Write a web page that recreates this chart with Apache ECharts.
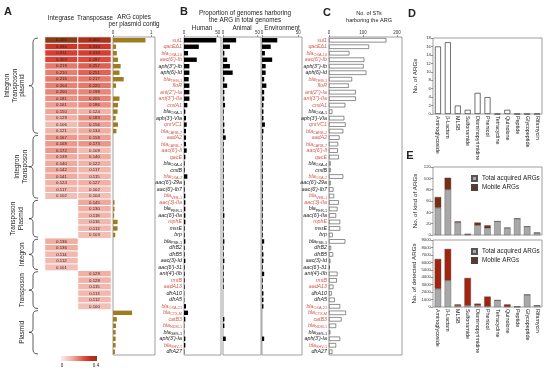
<!DOCTYPE html>
<html><head><meta charset="utf-8">
<script src="https://cdn.jsdelivr.net/npm/echarts@6/dist/echarts.min.js"></script>
<style>html,body{margin:0;padding:0;background:#fff}#c{width:550px;height:370px}</style>
</head><body><div id="c"></div><script>
const genes = ["sul1","qacEΔ1","bla_OXA-10","aac(6')-Ib","aph(3'')-Ib","aph(6)-Id","bla_TEM-1","floR","ant(2'')-Ia","ant(3'')-IIa","cmlA1","bla_OXA-1","aph(3')-VIa","qnrVC1",
"bla_CARB-2","aadA2","bla_CARB-7","aac(6')-Il","qacE","bla_OXA-4","cmlB","bla_OXA-2","aac(6')-29a","aac(6')-Ib7","bla_VEB-1",
"aac(3)-IIa","bla_PER-1","aac(6')-IIa","mphE","msrE","brp",
"bla_PSE-1","dfrB2","dfrB5","aac(3)-Id","aac(6')-31",
"ant(4')-IIb","rmtB","aadA13","dfrA10","dfrA5","bla_OXA-21",
"bla_CTX-M","catB3","bla_NDM-1","bla_GES-1","aph(3')-Ia","bla_SHV-1","dfrA27"];
const geneRed = [1,1,1,1,0,0,1,1,1,1,1,0,0,1, 1,1,1,1,1,0,0,1,0,0,1, 1,0,0,1,0,0, 0,0,0,0,0, 0,1,1,0,0,1, 1,1,1,0,0,1,0];
const groupNames = ["Integron\nTransposon\nplasmid","Integron\nTransposon","Transposon\nPlasmid","Integron","Transposon","Plasmid"];
const groupSizes = [15,10,6,5,6,7];
const integrase = [0.466,0.336,0.311,0.303,0.219,0.210,0.216,0.204,0.200,0.181,0.161,0.150,0.129,0.106,0.121,
 0.167,0.168,0.172,0.139,0.140,0.142,0.141,0.124,0.117,0.102,
 null,null,null,null,null,null, 0.136,0.136,0.114,0.112,0.101,
 null,null,null,null,null,null, null,null,null,null,null,null,null];
const transposase = [0.400,0.334,0.314,0.287,0.257,0.251,0.217,0.220,0.198,0.205,0.186,0.124,0.183,0.156,0.134,
 0.158,0.173,0.109,0.140,0.122,0.117,0.115,0.127,0.102,0.104,
 0.145,0.130,0.118,0.116,0.113,0.103, null,null,null,null,null,
 0.129,0.128,0.115,0.113,0.112,0.100, null,null,null,null,null,null,null];
const copies = [0.85,0.08,0.10,0.13,0.20,0.17,0.28,0.08,null,0.17,0.13,0.12,0.07,0.13,0.09,
 null,null,null,null,null,null,null,null,null,null,
 0.04,0.04,0.03,0.12,0.12,0.06, null,null,null,null,null, null,null,null,null,null,null,
 0.50,0.10,0.08,0.07,0.07,0.07,0.05];
const human = [48,22,6,19,8,8,7,8,8,8,5,2,3,4, 3,3,3,4,2,1,1,5,1,1,2, 2,2,2,2,1,1, 2,1,1,2,1, 1,1,1,0.5,0.5,3, 6,2,0.5,0.5,2,2,0.5];
const animal = [19,10,2,6,10,14,2,6,2,2,3,1,1,2, 2,4,1,1,1,1,1,1,1,1,1, 1,1,2,1,1,1, 2,1,1,2,1, 1,1,1,0,0,0, 0,2,2,0,4,0,0];
const environment = [21,12,4,14,5,5,3,6,3,3,2,2,2,4, 2,1,1,1,1,1,1,1,1,1,1, 1,1,1,1,1,1, 3,1,2,2,1, 3,1,1,2,2,2, 0,0,0,0,3,0,0];
const stCount = [169,118,60,104,102,110,68,58,79,79,48,10,45,49, 42,31,27,26,29,5,5,42,5,13,15, 29,25,21,33,33,11, 48,6,12,4,2, 25,23,13,8,17,33, 50,37,21,4,33,21,10];
const classes = ["Aminoglycoside","β-Lactam","MLSB","Sulfonamide","Diaminopyrimidine","Phenicol","Tetracycline","Quinolone","Peptide","Glycopeptide","Rifamycin"];
const argCount = [16,17,2,1,5,4,0,1,0,0,0];
const kindTotal = [48,80,22,1,17,12,24,12,29,15,4];
const kindMobile = [19,21,2,1,5,5,0,1,0,0,0];
const detTotal = [2450,3550,150,200,200,100,900,50,30,1650,200];
const detMobile = [4000,4250,200,3700,250,1300,0,300,0,0,0];

const F = 'Liberation Sans';
const TOP = 37, H = 318;
const heatColors = ['#fbece8','#f6cdc6','#efa79c','#e5786a','#d9473a','#c42a20','#8a3a14'];
const chart = echarts.init(document.getElementById('c'));

function geneFmt(v, i){
  const c = geneRed[i] ? 'r' : 'b';
  if (v.indexOf('bla_') === 0) return '{n'+c+'|bla}{s'+c+'|'+v.slice(4)+'}';
  return '{n'+c+'|'+v+'}';
}
const RED = '#d65a4e', BLK = '#222';
const geneRich = {
  nr:{fontStyle:'italic',color:RED,fontSize:5.3,fontFamily:F},
  sr:{color:RED,fontSize:3.8,fontFamily:F,padding:[3,0,0,0]},
  nb:{fontStyle:'italic',color:BLK,fontSize:5.3,fontFamily:F},
  sb:{color:BLK,fontSize:3.8,fontFamily:F,padding:[3,0,0,0]}
};
const tinyLbl = {fontSize:4.5,color:'#333',fontFamily:F,margin:2};
const box = {show:true,borderColor:'#777',borderWidth:0.7,backgroundColor:'transparent'};
function rowGrid(left,width,extra){return Object.assign({left:left,top:TOP,width:width,height:H},extra||{});}
const grids = [
  rowGrid(45,66), rowGrid(113,42,box), rowGrid(184,37,box), rowGrid(223,38,box), rowGrid(262,40,box), rowGrid(329,73,box),
  Object.assign({left:433,top:38,width:109,height:76},box),
  Object.assign({left:433,top:167,width:109,height:68},box),
  Object.assign({left:433,top:240,width:109,height:67},box)
];
function topVal(g,max,interval){
  return {gridIndex:g,type:'value',min:0,max:max,interval:interval,position:'top',
    axisLine:{show:false},axisTick:{show:true,length:2,lineStyle:{color:'#555',width:0.6}},
    axisLabel:Object.assign({showMaxLabel:false},tinyLbl),splitLine:{show:false}};
}
function rowCat(g,showLabels){
  return {gridIndex:g,type:'category',data:genes,inverse:true,
    axisLine:{show:false},axisTick:{show:false},
    axisLabel:showLabels?{show:true,formatter:geneFmt,rich:geneRich,margin:2,interval:0}:{show:false}};
}
function catX(g,showLabels){
  return {gridIndex:g,type:'category',data:classes,axisLine:{show:false},axisTick:{show:false},
    axisLabel:showLabels?{show:true,rotate:-90,interval:0,fontSize:5.4,color:'#222',fontFamily:F,margin:2}:{show:false}};
}
function valY(g,max,interval,name){
  return {gridIndex:g,type:'value',min:0,max:max,interval:interval,name:name,nameLocation:'middle',nameGap:15,
    nameTextStyle:{fontSize:6.2,color:'#222',fontFamily:F},
    axisLine:{show:false},axisTick:{show:true,length:2,lineStyle:{color:'#555',width:0.6}},
    axisLabel:{fontSize:4.3,color:'#333',fontFamily:F,margin:2,formatter:v=>String(v)},splitLine:{show:false}};
}
const heatData = [];
integrase.forEach((v,i)=>{ if(v!=null) heatData.push([0,i,v]); });
transposase.forEach((v,i)=>{ if(v!=null) heatData.push([1,i,v]); });

const rowBar = (name,x,y,data,style)=>({name:name,type:'bar',xAxisIndex:x,yAxisIndex:y,data:data,barWidth:4.4,itemStyle:style,silent:true});

const rowH = H / genes.length;
const graphics = [];
let start = 0;
const labelX = [15,21,17,22,22,22];
groupSizes.forEach((n,gi)=>{
  const y1 = TOP + start*rowH + 1, y2 = TOP + (start+n)*rowH - 1, m = (y1+y2)/2;
  graphics.push({type:'polyline',shape:{points:[[38,y1],[35,y1+0.5],[33.6,y1+1.8],[33,y1+4],[33,m-3],[32.6,m-1.4],[31.2,m-0.4],[29,m],[31.2,m+0.4],[32.6,m+1.4],[33,m+3],[33,y2-4],[33.6,y2-1.8],[35,y2-0.5],[38,y2]]},
    style:{fill:null,stroke:'#333',lineWidth:0.8}});
  graphics.push({type:'text',x:labelX[gi],y:m,rotation:Math.PI/2,
    style:{text:groupNames[gi],fontSize:6.5,lineHeight:7.5,fill:'#222',fontFamily:F,align:'center',verticalAlign:'middle'}});
  start += n;
});
const T = (x,y,text,size,extra)=>({type:'text',x:x,y:y,style:Object.assign({text:text,fontSize:size,fill:'#222',fontFamily:F,align:'center',verticalAlign:'middle'},extra||{})});
graphics.push(
  T(8,12,'A',11,{fontWeight:'bold'}), T(184,12,'B',11,{fontWeight:'bold'}), T(327,13,'C',11,{fontWeight:'bold'}),
  T(412,14,'D',11,{fontWeight:'bold'}), T(410,156,'E',11,{fontWeight:'bold'}),
  T(61,18,'Integrase',6.3), T(95,18,'Transposase',6.3),
  T(134,17,'ARG copies',6.3), T(134,24,'per plasmid contig',6.3),
  T(245,13,'Proportion of genomes harboring',6.3), T(245,20,'the ARG in total genomes',6.3),
  T(202,28,'Human',6.3), T(242,28,'Animal',6.3), T(282,28,'Environment',6.3),
  T(369,13,'No. of STs',5.5), T(369,20,'harboring the ARG',5.5),
  {type:'rect',shape:{x:61,y:356,width:36,height:5},style:{fill:{type:'linear',x:0,y:0,x2:1,y2:0,
    colorStops:heatColors.map((c,i)=>({offset:i/(heatColors.length-1),color:c}))}}},
  T(62,366,'0',4.5), T(96,366,'0.4',4.5)
);

chart.setOption({
  animation:false,
  textStyle:{fontFamily:F},
  grid:grids,
  xAxis:[
    {gridIndex:0,type:'category',data:['Integrase','Transposase'],show:false},
    topVal(1,1.1,1), topVal(2,55,50), topVal(3,55,50), topVal(4,55,50), topVal(5,215,100),
    catX(6,true), catX(7,false), catX(8,true)
  ],
  yAxis:[
    rowCat(0,false), rowCat(1,false), rowCat(2,true), rowCat(3,false), rowCat(4,false), rowCat(5,true),
    valY(6,18,2,'No. of ARGs'), valY(7,120,20,'No. of kind of ARGs'), valY(8,9000,1000,'No. of detected ARGs')
  ],
  visualMap:{show:false,type:'continuous',min:0,max:0.44,seriesIndex:0,inRange:{color:heatColors}},
  legend:[
    {left:466,top:170,orient:'vertical',icon:'rect',itemWidth:5,itemHeight:5,itemGap:2,textStyle:{fontSize:6.3,color:'#222'},data:['Total acquired ARGs','Mobile ARGs'],selectedMode:false},
    {left:466,top:243,orient:'vertical',icon:'rect',itemWidth:5,itemHeight:5,itemGap:2,textStyle:{fontSize:6.3,color:'#222'},data:['Total acquired ARGs','Mobile ARGs'],selectedMode:false}
  ],
  series:[
    {type:'heatmap',xAxisIndex:0,yAxisIndex:0,data:heatData,itemStyle:{borderColor:'#fff',borderWidth:1},
      label:{show:true,fontSize:4.3,color:'#3a2020',formatter:p=>p.value[2].toFixed(3)}},
    rowBar('copies',1,1,copies,{color:'#9e7c22'}),
    rowBar('Human',2,2,human,{color:'#000'}),
    rowBar('Animal',3,3,animal,{color:'#000'}),
    rowBar('Environment',4,4,environment,{color:'#000'}),
    rowBar('STs',5,5,stCount,{color:'#fff',borderColor:'#444',borderWidth:0.6}),
    {type:'bar',xAxisIndex:6,yAxisIndex:6,data:argCount,barWidth:6,itemStyle:{color:'#fff',borderColor:'#333',borderWidth:0.7}},
    {name:'Total acquired ARGs',type:'bar',stack:'k',xAxisIndex:7,yAxisIndex:7,data:kindTotal,barWidth:6.5,itemStyle:{color:'#a8a8a8',borderColor:'#555',borderWidth:0.4}},
    {name:'Mobile ARGs',type:'bar',stack:'k',xAxisIndex:7,yAxisIndex:7,data:kindMobile,barWidth:6.5,itemStyle:{color:'#7b2d10',borderColor:'#444',borderWidth:0.4}},
    {name:'Total acquired ARGs',type:'bar',stack:'d',xAxisIndex:8,yAxisIndex:8,data:detTotal,barWidth:6.5,itemStyle:{color:'#a8a8a8',borderColor:'#555',borderWidth:0.4}},
    {name:'Mobile ARGs',type:'bar',stack:'d',xAxisIndex:8,yAxisIndex:8,data:detMobile,barWidth:6.5,itemStyle:{color:'#a3230f',borderColor:'#444',borderWidth:0.4}}
  ],
  graphic:graphics
});
</script></body></html>
